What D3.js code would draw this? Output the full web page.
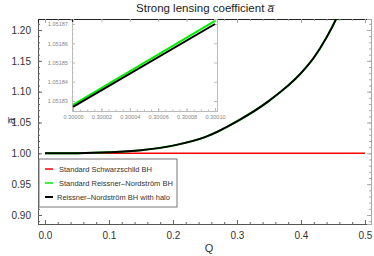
<!DOCTYPE html>
<html>
<head>
<meta charset="utf-8">
<script src="https://cdn.jsdelivr.net/npm/d3@7"></script>
<style>
  body { margin: 0; background: #fff; }
  text { font-family: "Liberation Sans", Arial, sans-serif; }
</style>
</head>
<body>
<div id="chart"></div>
<script>
const W = 374, H = 256;

// main chart values
const qVals = [0, 0.05, 0.10, 0.15, 0.20, 0.25, 0.30, 0.35, 0.40, 0.42, 0.44, 0.455, 0.47];
const haloVals = [1.0000, 1.0003, 1.0017, 1.0050, 1.0125, 1.0262, 1.0518, 1.085, 1.130, 1.155, 1.188, 1.218, 1.255];
const rnVals = haloVals.slice();
const schwQ = [0, 0.5];
const schwVals = [1, 1];

// inset values
const insetQ = [0.30000, 0.30010];
const insetRN = [1.051828, 1.0518716];
const insetHalo = [1.051827, 1.05187];

const xTicks = [0, 0.1, 0.2, 0.3, 0.4, 0.5];
const yTicks = [0.90, 0.95, 1.00, 1.05, 1.10, 1.15, 1.20];
const insetXTicks = [0.30000, 0.30002, 0.30004, 0.30006, 0.30008, 0.30010];
const insetYTicks = [1.05183, 1.05184, 1.05185, 1.05186, 1.05187];

const legendNames = ["Standard Schwarzschild BH", "Standard Reissner\u2013Nordstr\u00f6m BH", "Reissner\u2013Nordstr\u00f6m BH with halo"];
const legendColors = ["#ff0000", "#00ee00", "#000000"];

const frame = {left: 38, right: 371, top: 19, bottom: 224};

const svg = d3.select("#chart").append("svg")
    .attr("width", W)
    .attr("height", H)

const x = d3.scaleLinear().domain([-0.0109, 0.5094]).range([frame.left, frame.right]);
const y = d3.scaleLinear().domain([0.8854, 1.2178]).range([frame.bottom, frame.top]);

svg.append("clipPath").attr("id", "clip")
  .append("rect")
    .attr("x", frame.left).attr("y", frame.top)
    .attr("width", frame.right - frame.left).attr("height", frame.bottom - frame.top);

// title
const title = svg.append("text")
    .attr("x", 205).attr("y", 12)
    .attr("text-anchor", "middle")
    .attr("font-size", 11.5)
    .attr("fill", "#222");
title.append("tspan").text("Strong lensing coefficient ");
title.append("tspan").attr("font-style", "italic").text("a\u0305");

// axes
const minorX = d3.range(0, 0.5001, 0.02);
const minorY = d3.range(0.89, 1.2101, 0.01);

const gx = svg.append("g")
    .attr("transform", "translate(0," + frame.bottom + ")")
    .call(d3.axisBottom(x).tickValues(xTicks).tickFormat(d3.format(".1f")).tickSize(-4).tickPadding(8));
gx.append("g").call(d3.axisBottom(x).tickValues(minorX).tickFormat("").tickSize(-2));

const gy = svg.append("g")
    .attr("transform", "translate(" + frame.left + ",0)")
    .call(d3.axisLeft(y).tickValues(yTicks).tickFormat(d3.format(".2f")).tickSize(-4).tickPadding(7));
gy.append("g").call(d3.axisLeft(y).tickValues(minorY).tickFormat("").tickSize(-2));

const gTop = svg.append("g")
    .attr("transform", "translate(0," + frame.top + ")")
    .call(d3.axisTop(x).tickValues(xTicks).tickFormat("").tickSize(-4));
gTop.append("g").call(d3.axisTop(x).tickValues(minorX).tickFormat("").tickSize(-2));

const gRight = svg.append("g")
    .attr("transform", "translate(" + frame.right + ",0)")
    .call(d3.axisRight(y).tickValues(yTicks).tickFormat("").tickSize(-4));
gRight.append("g").call(d3.axisRight(y).tickValues(minorY).tickFormat("").tickSize(-2));

svg.selectAll(".domain").attr("stroke", "#555");
svg.selectAll(".tick line").attr("stroke", "#666");
gTop.selectAll(".domain").attr("stroke", "#222");
gRight.selectAll(".domain").attr("stroke", "#aaa");
gTop.selectAll(".tick line").attr("stroke", "#aaa");
gRight.selectAll(".tick line").attr("stroke", "#aaa");
svg.selectAll(".tick text").attr("font-size", 10).attr("fill", "#333")
    .attr("font-family", "Liberation Sans, Arial, sans-serif");

// axis labels
svg.append("text")
    .attr("x", 209).attr("y", 252)
    .attr("text-anchor", "middle")
    .attr("font-size", 11)
    .attr("fill", "#333")
    .text("Q");

svg.append("text")
    .attr("transform", "translate(15,121) rotate(-90)")
    .attr("text-anchor", "middle")
    .attr("font-size", 11)
    .attr("font-style", "italic")
    .attr("fill", "#333")
    .text("a\u0305");

// curves
const plot = svg.append("g").attr("clip-path", "url(#clip)");

const lineMain = d3.line()
    .x(d => x(d[0]))
    .y(d => y(d[1]))
    .curve(d3.curveMonotoneX);

plot.append("path")
    .datum(schwQ.map((q, i) => [q, schwVals[i]]))
    .attr("d", lineMain)
    .attr("fill", "none").attr("stroke", legendColors[0]).attr("stroke-width", 1.5);

plot.append("path")
    .datum(qVals.map((q, i) => [q, rnVals[i]]))
    .attr("d", lineMain)
    .attr("fill", "none").attr("stroke", legendColors[1]).attr("stroke-width", 2);

plot.append("path")
    .datum(qVals.map((q, i) => [q, haloVals[i]]))
    .attr("d", lineMain)
    .attr("fill", "none").attr("stroke", legendColors[2]).attr("stroke-width", 2);

// inset
const inset = {left: 72, right: 217, top: 19, bottom: 111};
const xi = d3.scaleLinear().domain([0.2999993, 0.3001014]).range([inset.left, inset.right]);
const yi = d3.scaleLinear().domain([1.0518248, 1.0518726]).range([inset.bottom, inset.top]);

const gi = svg.append("g");
gi.append("rect")
    .attr("x", inset.left).attr("y", inset.top)
    .attr("width", inset.right - inset.left).attr("height", inset.bottom - inset.top)
    .attr("fill", "#fff");

const gix = gi.append("g")
    .attr("transform", "translate(0," + inset.bottom + ")")
    .call(d3.axisBottom(xi).tickValues(insetXTicks).tickFormat(d3.format(".5f")).tickSize(-3).tickPadding(4));
gix.append("g").call(d3.axisBottom(xi).tickValues(d3.range(0.300000, 0.3001001, 0.000005)).tickFormat("").tickSize(-1.5));
const giy = gi.append("g")
    .attr("transform", "translate(" + inset.left + ",0)")
    .call(d3.axisLeft(yi).tickValues(insetYTicks).tickFormat(d3.format(".5f")).tickSize(-3).tickPadding(4));
giy.append("g").call(d3.axisLeft(yi).tickValues(d3.range(1.051825, 1.0518726, 0.0000025)).tickFormat("").tickSize(-1.5));
const giTop = gi.append("g")
    .attr("transform", "translate(0," + inset.top + ")")
    .call(d3.axisTop(xi).tickValues(insetXTicks).tickFormat("").tickSize(-3));
const giRight = gi.append("g")
    .attr("transform", "translate(" + inset.right + ",0)")
    .call(d3.axisRight(yi).tickValues(insetYTicks).tickFormat("").tickSize(-3));

gi.selectAll(".domain").attr("stroke", "#bbb");
gi.selectAll(".tick line").attr("stroke", "#bbb");
giTop.selectAll(".domain").attr("stroke", "#222");
gi.selectAll(".tick text").attr("font-size", 5.6).attr("fill", "#888")
    .attr("font-family", "Liberation Sans, Arial, sans-serif");

svg.append("clipPath").attr("id", "clipInset")
  .append("rect")
    .attr("x", inset.left).attr("y", inset.top)
    .attr("width", inset.right - inset.left).attr("height", inset.bottom - inset.top);

const lineInset = d3.line().x(d => xi(d[0])).y(d => yi(d[1]));
const giPlot = gi.append("g").attr("clip-path", "url(#clipInset)");
giPlot.append("path")
    .datum(insetQ.map((q, i) => [q, insetRN[i]]))
    .attr("d", lineInset)
    .attr("fill", "none").attr("stroke", legendColors[1]).attr("stroke-width", 2);
giPlot.append("path")
    .datum(insetQ.map((q, i) => [q, insetHalo[i]]))
    .attr("d", lineInset)
    .attr("fill", "none").attr("stroke", legendColors[2]).attr("stroke-width", 2);

// legend
const legend = svg.append("g").attr("transform", "translate(39,159)");
legend.append("rect")
    .attr("width", 138).attr("height", 48)
    .attr("fill", "#fff")
    .attr("stroke", "#777").attr("stroke-width", 1);

const items = legend.selectAll(".item")
    .data(legendNames)
    .enter().append("g")
    .attr("transform", (d, i) => "translate(0," + (10 + i * 14) + ")");
items.append("line")
    .attr("x1", 6).attr("x2", 14)
    .attr("stroke", (d, i) => legendColors[i])
    .attr("stroke-width", (d, i) => i === 2 ? 2 : 1.5);
items.append("text")
    .attr("x", (d, i) => i === 2 ? 18 : 20).attr("y", 2.7)
    .attr("font-size", 7.5)
    .attr("fill", "#333")
    .text(d => d);
</script>
</body>
</html>
